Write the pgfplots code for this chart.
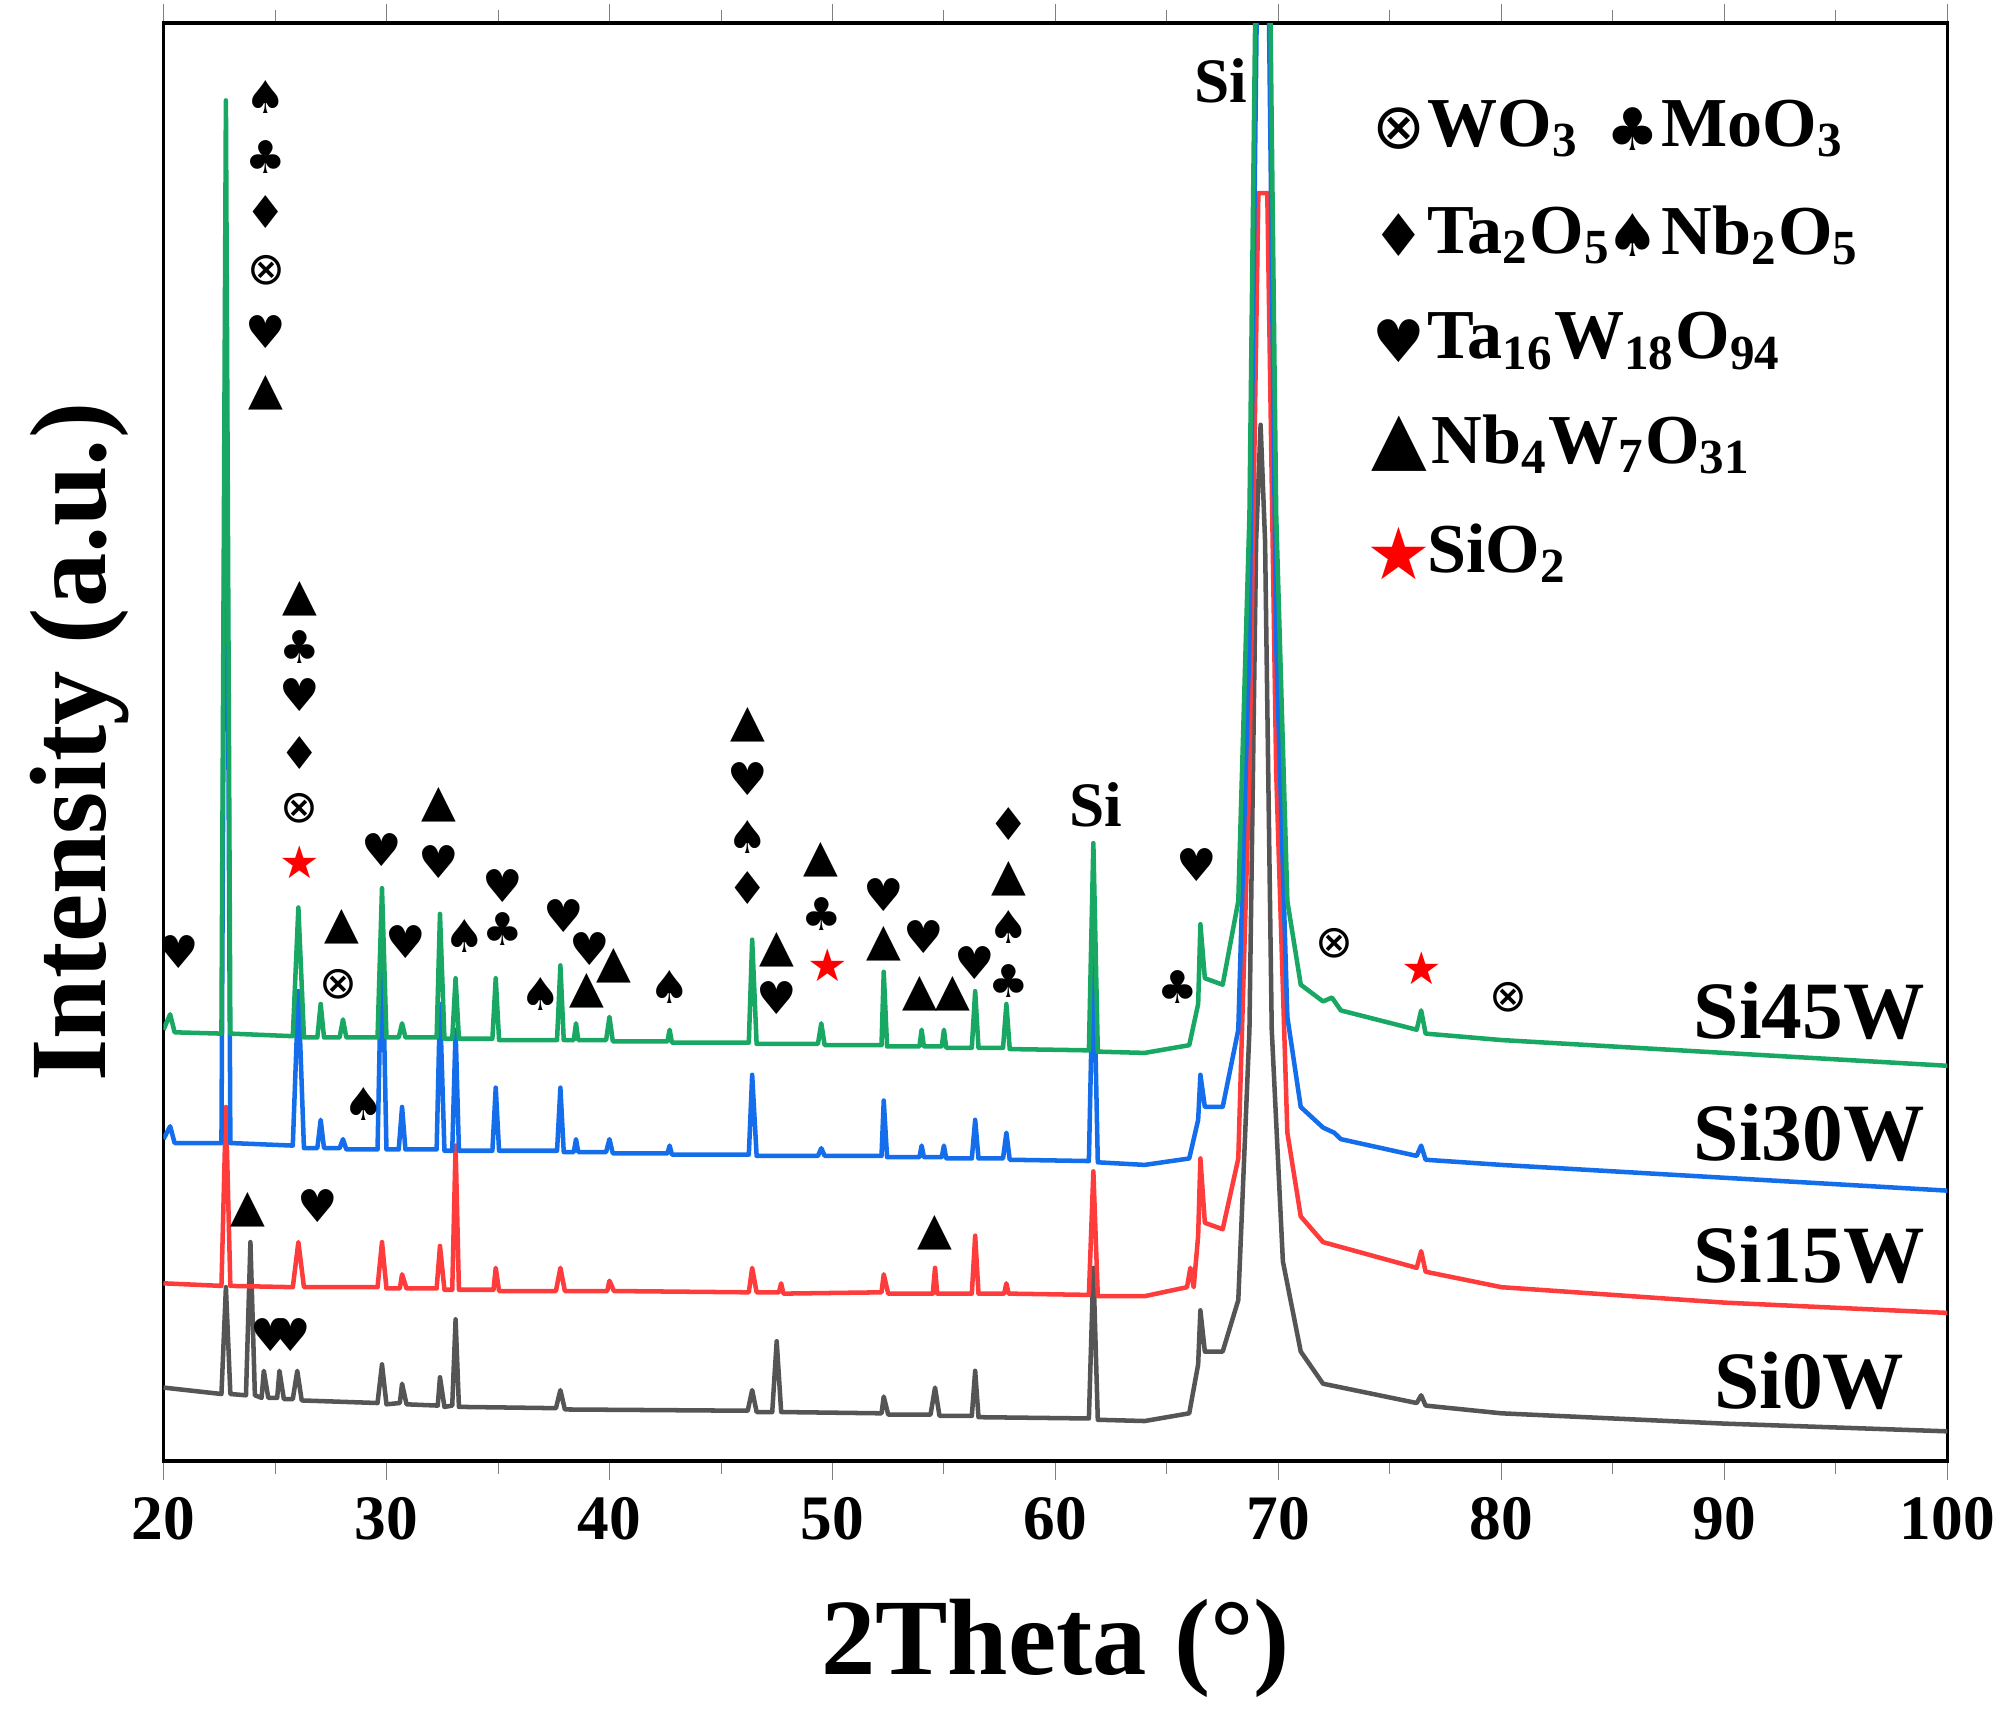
\documentclass[border=0pt]{standalone}
\usepackage{pgfplots}
\pgfplotsset{compat=1.18}
\usepackage{fontspec}
\setmainfont{Liberation Serif}
\newfontfamily\sym{DejaVu Sans}
\definecolor{cg}{RGB}{24,168,100}
\definecolor{cb}{RGB}{20,110,235}
\definecolor{cr}{RGB}{255,60,60}
\definecolor{ck}{RGB}{85,85,85}
\newcommand\sub[1]{\textsubscript{#1}}
\begin{document}
\begin{tikzpicture}[x=1cm,y=1cm]
\begin{axis}[
 scale only axis, width=13.86cm, height=11.17cm, at={(0,0)}, anchor=south west,
 xmin=20, xmax=100, ymin=18, ymax=1135, y dir=reverse,
 ytick=\empty, xtick={20,30,...,100},
 tick label style={font=\bfseries\fontsize{14}{14}\selectfont},
 /pgf/number format/assume math mode=true,
 xtick align=outside, minor x tick num=1,
 xlabel={\bfseries\fontsize{24}{24}\selectfont 2Theta (°)},
 ylabel={\bfseries\fontsize{24}{24}\selectfont Intensity (a.u.)},
 xlabel style={yshift=-6pt}, ylabel style={yshift=4pt},
 line width=0.8pt, axis line style={line width=0.8pt},
 every axis plot/.append style={line width=1pt, line join=round},
 clip=true]
% Si0W
\addplot[ck] coordinates {(20,1078)(22.6,1083)(22.8,1000)(23,1083)(23.7,1084)(23.9,965)(24.1,1084)(24.4,1086)(24.5,1065)(24.7,1086)(25.1,1086)(25.2,1065)(25.4,1087)(25.8,1087)(26,1065)(26.2,1088)(29.6,1090)(29.8,1060)(30,1091)(30.6,1090)(30.7,1075)(30.9,1091)(32.3,1092)(32.4,1070)(32.6,1093)(32.95,1092)(33.1,1025)(33.25,1093)(37.6,1094)(37.8,1080)(38,1095)(46.2,1096)(46.4,1080)(46.6,1097)(47.3,1097)(47.5,1042)(47.7,1097)(52.2,1098)(52.3,1085)(52.5,1099)(54.4,1099)(54.6,1078)(54.8,1100)(56.25,1100)(56.4,1065)(56.55,1101)(61.5,1102)(61.7,985)(61.9,1103)(64,1104)(66,1098)(66.4,1060)(66.5,1018)(66.7,1050)(67.5,1050)(68.2,1010)(68.7,800)(69,420)(69.2,330)(69.4,420)(69.7,800)(70.2,980)(71,1050)(72,1075)(76.2,1090)(76.4,1084)(76.6,1092)(80,1098)(90,1106)(100,1112)};
% Si15W
\addplot[cr] coordinates {(20,997)(22.6,999)(22.8,860)(23,999)(25.8,1000)(26.05,965)(26.3,1000)(29.6,1000)(29.8,965)(30,1001)(30.6,1001)(30.7,990)(30.9,1001)(32.25,1001)(32.4,968)(32.6,1002)(32.95,1002)(33.1,890)(33.25,1002)(34.8,1002)(34.9,985)(35.05,1003)(37.6,1003)(37.8,985)(38,1003)(39.9,1003)(40,995)(40.2,1003)(46.25,1004)(46.4,985)(46.6,1004)(47.6,1004)(47.7,997)(47.8,1005)(52.2,1004)(52.3,990)(52.5,1005)(54.5,1005)(54.6,985)(54.7,1005)(56.25,1005)(56.4,960)(56.55,1005)(57.7,1005)(57.8,997)(57.9,1005)(61.5,1006)(61.7,910)(61.9,1007)(64,1007)(65.9,1000)(66.05,985)(66.2,1000)(66.4,960)(66.5,900)(66.7,950)(67.5,955)(68.2,900)(68.7,600)(69.1,150)(69.5,150)(69.9,600)(70.4,880)(71,945)(72,965)(76.2,985)(76.4,972)(76.6,988)(80,1000)(90,1012)(100,1020)};
% Si30W
\addplot[cb] coordinates {(20,885)(20.3,875)(20.5,888)(22.6,888)(22.8,190)(23,888)(25.8,890)(26.05,770)(26.3,892)(26.9,892)(27.05,870)(27.2,892)(27.9,892)(28.05,885)(28.2,893)(29.6,893)(29.8,720)(30,893)(30.55,893)(30.7,860)(30.85,893)(32.25,893)(32.4,780)(32.6,894)(32.95,894)(33.1,800)(33.25,894)(34.75,894)(34.9,845)(35.05,894)(37.65,894)(37.8,845)(37.95,895)(38.4,895)(38.5,885)(38.6,895)(39.85,895)(40,885)(40.15,896)(42.6,896)(42.7,890)(42.8,897)(46.25,897)(46.4,835)(46.6,898)(49.35,898)(49.5,892)(49.65,898)(52.2,898)(52.3,855)(52.45,899)(53.9,899)(54,890)(54.1,899)(54.9,899)(55,890)(55.1,900)(56.25,900)(56.4,870)(56.55,900)(57.65,900)(57.8,880)(57.95,901)(61.5,902)(61.7,735)(61.9,903)(64,905)(66,900)(66.4,870)(66.5,835)(66.7,860)(67.5,860)(68.2,800)(68.7,500)(69.1,-100)(69.5,-100)(69.9,500)(70.4,790)(71,860)(72,876)(72.5,880)(72.8,885)(76.2,898)(76.4,890)(76.6,901)(80,905)(90,915)(100,925)};
% Si45W
\addplot[cg] coordinates {(20,800)(20.3,788)(20.5,802)(22.6,803)(22.8,78)(23,803)(25.8,805)(26.05,705)(26.3,806)(26.9,806)(27.05,780)(27.2,806)(27.9,806)(28.05,792)(28.2,806)(29.6,806)(29.8,690)(30,806)(30.55,806)(30.7,795)(30.85,806)(32.25,806)(32.4,710)(32.6,807)(32.95,807)(33.1,760)(33.25,807)(34.75,807)(34.9,760)(35.05,808)(37.65,808)(37.8,750)(37.95,808)(38.4,808)(38.5,795)(38.6,808)(39.85,808)(40,790)(40.15,809)(42.6,809)(42.7,800)(42.8,810)(46.25,810)(46.4,730)(46.6,811)(49.35,811)(49.5,795)(49.65,812)(52.2,812)(52.3,755)(52.45,813)(53.9,813)(54,800)(54.1,813)(54.9,813)(55,800)(55.1,814)(56.25,814)(56.4,770)(56.55,814)(57.65,814)(57.8,780)(57.95,815)(61.5,816)(61.7,655)(61.9,817)(64,818)(66,812)(66.4,780)(66.5,718)(66.7,760)(67.5,765)(68.2,700)(68.7,400)(69.1,-200)(69.5,-200)(69.9,400)(70.4,700)(71,765)(72,778)(72.4,775)(72.8,785)(76.2,800)(76.4,785)(76.6,803)(80,808)(90,818)(100,828)};
% annotations
\begin{scope}[every node/.style={font=\sym\fontsize{10}{10}\selectfont, inner sep=0pt}]
\foreach \x/\y/\s in {24.6/75/♠,24.6/122/♣,24.6/165/♦,24.6/210/⊗,24.6/258/♥,24.6/305/▲,
20.7/740/♥,26.1/465/▲,26.1/503/♣,26.1/540/♥,26.1/585/♦,26.1/628/⊗,28/720/▲,27.85/765/⊗,
29.8/660/♥,30.85/732/♥,32.35/625/▲,32.35/670/♥,33.5/727/♠,35.2/688/♥,35.2/722/♣,
37.95/712/♥,36.9/772/♠,39.1/737/♥,40.2/750/▲,39.0/770/▲,42.7/767/♠,
46.2/563/▲,46.2/605/♥,46.2/650/♠,46.2/690/♦,47.5/738/▲,47.5/775/♥,49.5/668/▲,49.5/710/♣,
52.3/695/♥,52.3/733/▲,54.1/728/♥,53.9/772/▲,55.4/772/▲,56.4/748/♥,
57.9/640/♦,57.9/683/▲,57.9/720/♠,57.9/762/♣,65.5/767/♣,66.35/672/♥,72.5/733/⊗,80.3/775/⊗,
29.0/858/♠,23.8/940/▲,26.9/937/♥,24.8/1037/♥,25.7/1037/♥,54.6/958/▲}
 {\edef\tmp{\noexpand\node at (axis cs:\x,\y) {\s};}\tmp}
\foreach \x/\y in {26.1/670,49.8/750,76.45/752}
 {\edef\tmp{\noexpand\node[text=red] at (axis cs:\x,\y) {★};}\tmp}
\end{scope}
\begin{scope}[every node/.style={font=\bfseries\fontsize{14}{14}\selectfont, inner sep=0pt}]
\node at (axis cs:61.8,625) {Si};
\node at (axis cs:67.4,63) {Si};
\node[font=\bfseries\fontsize{18}{18}\selectfont] at (axis cs:93.8,785) {Si45W};
\node[font=\bfseries\fontsize{18}{18}\selectfont] at (axis cs:93.8,880) {Si30W};
\node[font=\bfseries\fontsize{18}{18}\selectfont] at (axis cs:93.8,975) {Si15W};
\node[font=\bfseries\fontsize{18}{18}\selectfont] at (axis cs:93.8,1073) {Si0W};
\end{scope}
\begin{scope}[every node/.style={font=\bfseries\fontsize{15.5}{15.5}\selectfont, inner sep=0pt, anchor=west}]
\node[font=\sym\fontsize{14}{14}\selectfont, anchor=center] at (axis cs:75.4,100) {⊗};
\node at (axis cs:76.6,100) {WO\sub{3}};
\node[font=\sym\fontsize{13}{13}\selectfont, anchor=center] at (axis cs:85.9,100) {♣};
\node at (axis cs:87.1,100) {MoO\sub{3}};
\node[font=\sym\fontsize{13}{13}\selectfont, anchor=center] at (axis cs:75.4,183) {♦};
\node at (axis cs:76.6,183) {Ta\sub{2}O\sub{5}};
\node[font=\sym\fontsize{13}{13}\selectfont, anchor=center] at (axis cs:85.9,183) {♠};
\node at (axis cs:87.1,183) {Nb\sub{2}O\sub{5}};
\node[font=\sym\fontsize{13}{13}\selectfont, anchor=center] at (axis cs:75.4,265) {♥};
\node at (axis cs:76.6,265) {Ta\sub{16}W\sub{18}O\sub{94}};
\node[font=\sym\fontsize{16}{16}\selectfont, anchor=center] at (axis cs:75.4,345) {▲};
\node at (axis cs:76.8,345) {Nb\sub{4}W\sub{7}O\sub{31}};
\node[font=\sym\fontsize{16}{16}\selectfont, anchor=center, text=red] at (axis cs:75.4,430) {★};
\node at (axis cs:76.6,430) {SiO\sub{2}};
\end{scope}
\end{axis}
\path (-1.27,-2.0) rectangle (14.33,11.35);
\end{tikzpicture}
\end{document}
